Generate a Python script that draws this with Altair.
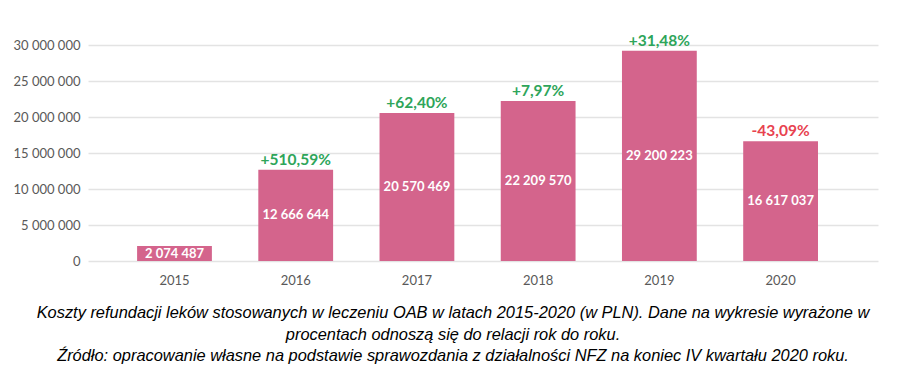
import altair as alt
import pandas as pd

years = ["2015", "2016", "2017", "2018", "2019", "2020"]
values = [2074487, 12666644, 20570469, 22209570, 29200223, 16617037]
changes = ["", "+510,59%", "+62,40%", "+7,97%", "+31,48%", "-43,09%"]
y_ticks = [0, 5000000, 10000000, 15000000, 20000000, 25000000, 30000000]
caption = [
    "Koszty refundacji leków stosowanych w leczeniu OAB w latach 2015-2020 (w PLN). Dane na wykresie wyrażone w",
    "procentach odnoszą się do relacji rok do roku.",
    "Źródło: opracowanie własne na podstawie sprawozdania z działalności NFZ na koniec IV kwartału 2020 roku.",
]

def fmt(v):
    return f"{v:,}".replace(",", " ")

df = pd.DataFrame({
    "year": years,
    "value": values,
    "half": [v / 2 for v in values],
    "label": [fmt(v) for v in values],
    "change": changes,
    "sign": ["none"] + ["neg" if c.startswith("-") else "pos" for c in changes[1:]],
})

FONT = "Lato"

xaxis = alt.Axis(labelAngle=0, domain=False, ticks=False, labelColor="#595959",
                 labelFontSize=13, labelFont=FONT, labelPadding=13, title=None)
xscale = alt.Scale(paddingInner=0.383, paddingOuter=0.45, align=0.45)
yaxis = alt.Axis(values=y_ticks, domain=False, ticks=False, gridColor="#e3e3e3",
                 gridWidth=1.5, labelColor="#595959", labelFontSize=13,
                 labelFont=FONT, labelPadding=8, labelOverlap=False, title=None,
                 labelExpr="replace(format(datum.value, ','), regexp(',', 'g'), ' ')")
yscale = alt.Scale(domain=[0, 30000000])

base = alt.Chart(df)

bars = base.mark_bar(color="#d4648c").encode(
    x=alt.X("year:N", scale=xscale, axis=xaxis),
    y=alt.Y("value:Q", scale=yscale, axis=yaxis),
)

inner = base.mark_text(color="white", fontWeight="bold", fontSize=13, font=FONT,
                       baseline="middle").encode(
    x=alt.X("year:N", scale=xscale, axis=xaxis),
    y=alt.Y("half:Q", scale=yscale, axis=yaxis),
    text="label:N",
)

pct = base.mark_text(fontWeight="bold", fontSize=15.5, font=FONT, baseline="bottom", dy=-2).encode(
    x=alt.X("year:N", scale=xscale, axis=xaxis),
    y=alt.Y("value:Q", scale=yscale, axis=yaxis),
    text="change:N",
    color=alt.Color("sign:N", scale=alt.Scale(domain=["pos", "neg", "none"],
                                             range=["#2ea55a", "#e8424f", "#ffffff"]),
                    legend=None),
)

chart = alt.layer(bars, inner, pct).properties(
    width=790, height=216,
    title=alt.TitleParams(text=caption, orient="bottom", anchor="middle",
                          font="Liberation Sans",
                          fontSize=16.4, fontStyle="italic", fontWeight="normal",
                          color="#000000", lineHeight=21.5, offset=18, dx=-30),
    autosize=alt.AutoSizeParams(type="none"),
    padding={"left": 80, "top": 37, "right": 14, "bottom": 107},
).configure_view(stroke=None)

chart.save("out.html", embed_options={"renderer": "svg", "actions": False})
